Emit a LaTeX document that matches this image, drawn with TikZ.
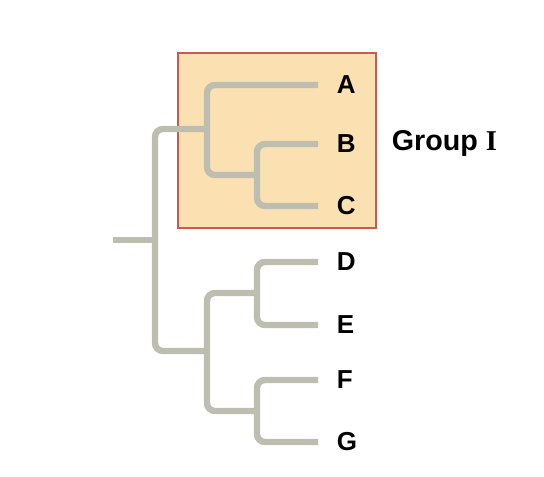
\documentclass[tikz,border=0pt]{standalone}
\usepackage{fontspec}
\setmainfont{Liberation Sans}
\newfontfamily\romanfont{Liberation Serif}
\usetikzlibrary{positioning}
\definecolor{branchgray}{RGB}{190,190,176}
\definecolor{boxfill}{RGB}{251,225,178}
\definecolor{boxred}{RGB}{204,88,78}
\begin{document}
\begin{tikzpicture}[x=0.75pt, y=-0.75pt,
    branch/.style={
        draw=branchgray,
        line width=4.8pt,
        rounded corners=6pt
    },
    taxon/.style={
        font=\fontsize{19.5}{22}\selectfont\bfseries,
        inner sep=0pt
    },
    groupbox/.style={
        rectangle,
        draw=boxred,
        fill=boxfill,
        line width=1.4pt,
        minimum width=148.5pt,
        minimum height=131pt
    }
]
\useasboundingbox (0,0) rectangle (544,476);

% Group box
\node[groupbox] (grpI) at (277,140.5) {};
\node[taxon, font=\fontsize{21.5}{24}\selectfont\bfseries, anchor=west,
      right=11pt of grpI.east, yshift=-2pt] (grplabel) {Group {\romanfont I}};

% Internal nodes
\coordinate (stem) at (113,240);
\coordinate (root) at (155,240);
\coordinate (nABC) at (207,129);
\coordinate (nBC) at (257,175);
\coordinate (nDEFG) at (207,351);
\coordinate (nDE) at (257,293);
\coordinate (nFG) at (257,411);

% Tips
\coordinate (tipA) at (318,85);
\coordinate (tipB) at (318,144);
\coordinate (tipC) at (318,206);
\coordinate (tipD) at (318,262);
\coordinate (tipE) at (318,325);
\coordinate (tipF) at (318,380);
\coordinate (tipG) at (318,442);

% Labels
\node[taxon, right=14pt of tipA] (taxA) {A};
\node[taxon, right=14pt of tipB] (taxB) {B};
\node[taxon, right=14pt of tipC] (taxC) {C};
\node[taxon, right=14pt of tipD] (taxD) {D};
\node[taxon, right=14pt of tipE] (taxE) {E};
\node[taxon, right=14pt of tipF] (taxF) {F};
\node[taxon, right=14pt of tipG] (taxG) {G};

% Branches
\draw[branch] (stem) -- (root);
\draw[branch] (root) |- (nABC);
\draw[branch] (root) |- (nDEFG);
\draw[branch] (nABC) |- (tipA);
\draw[branch] (nABC) |- (nBC);
\draw[branch] (nBC) |- (tipB);
\draw[branch] (nBC) |- (tipC);
\draw[branch] (nDEFG) |- (nDE);
\draw[branch] (nDEFG) |- (nFG);
\draw[branch] (nDE) |- (tipD);
\draw[branch] (nDE) |- (tipE);
\draw[branch] (nFG) |- (tipF);
\draw[branch] (nFG) |- (tipG);

\end{tikzpicture}
\end{document}
